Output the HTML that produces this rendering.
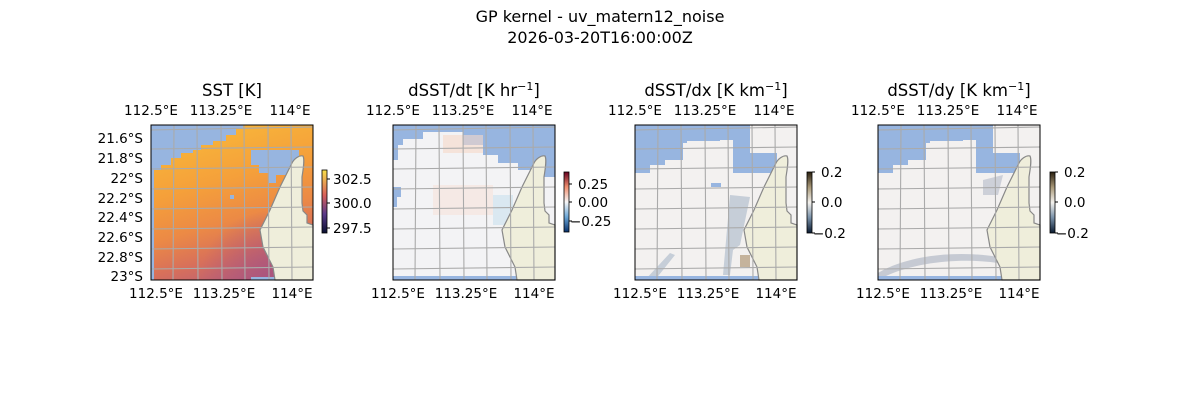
<!DOCTYPE html>
<html><head><meta charset="utf-8"><style>
html,body{margin:0;padding:0;background:#fff}
svg{display:block;font-family:"DejaVu Sans","Liberation Sans",sans-serif}
</style></head><body>
<svg width="1200" height="400" viewBox="0 0 1200 400" xmlns="http://www.w3.org/2000/svg">
<defs>
<linearGradient id="sst" x1="0.35" y1="0" x2="0.65" y2="1">
<stop offset="0" stop-color="#f8b73a"/><stop offset="0.35" stop-color="#f5a03a"/><stop offset="0.6" stop-color="#ec8a45"/><stop offset="0.8" stop-color="#d8705a"/><stop offset="1" stop-color="#b85e78"/>
</linearGradient>
<radialGradient id="purp" cx="0.75" cy="1" r="0.45"><stop offset="0" stop-color="#a8547f" stop-opacity="0.9"/><stop offset="1" stop-color="#a8547f" stop-opacity="0"/></radialGradient>
<linearGradient id="cb1" x1="0" y1="1" x2="0" y2="0"><stop offset="0" stop-color="#0a1030"/><stop offset="0.3" stop-color="#5a3a8a"/><stop offset="0.6" stop-color="#d8605a"/><stop offset="1" stop-color="#f8e04a"/></linearGradient>
<linearGradient id="cb2" x1="0" y1="1" x2="0" y2="0"><stop offset="0" stop-color="#08306b"/><stop offset="0.25" stop-color="#6aa6d6"/><stop offset="0.5" stop-color="#f7f7f7"/><stop offset="0.75" stop-color="#f09070"/><stop offset="1" stop-color="#67001f"/></linearGradient>
<linearGradient id="cb3" x1="0" y1="1" x2="0" y2="0"><stop offset="0" stop-color="#0a1a30"/><stop offset="0.25" stop-color="#7890a8"/><stop offset="0.5" stop-color="#f4f2ee"/><stop offset="0.75" stop-color="#a89878"/><stop offset="1" stop-color="#2a2010"/></linearGradient>
<path id="land" d="M152,31 C148,30 143,34 141,38 L129,62 L119,85 L109,105 L112,122 L122,142 L124,155 L162,155 L162,100 L156,98 L156,90 L152,86 L151,78 L151,52 C152,45 154,35 152,31 Z"/>
<g id="grid" stroke="#aaaaaa" stroke-width="1.1" fill="none">
<path d="M23,0 L22,155 M46,0 L47,155 M70,0 L71,155 M93,0 L94,155 M117,0 L118,155 M140,0 L141,155"/>
<path d="M0,5 L162,2 M0,24 L162,22 M0,44 L162,42 M0,64 L162,62 M0,84 L162,82 M0,104 L162,102 M0,124 L162,122 M0,144 L162,142"/>
</g>
<g id="ticks" font-size="13.5" fill="#000">
<text x="0" y="-10" text-anchor="middle">112.5°E</text><text x="70" y="-10" text-anchor="middle">113.25°E</text><text x="139" y="-10" text-anchor="middle">114°E</text>
<text x="5" y="173" text-anchor="middle">112.5°E</text><text x="73" y="173" text-anchor="middle">113.25°E</text><text x="141" y="173" text-anchor="middle">114°E</text>
</g>
<path id="ocean34" d="M0,0 H162 V0 H115 V28 H142 V48 H98 V15 H85 V16 H52 V18 H48 V35 H30 V40 H15 V48 H0 Z"/>
</defs>

<text x="600" y="22" font-size="16" text-anchor="middle">GP kernel - uv_matern12_noise</text>
<text x="600" y="43" font-size="16" text-anchor="middle">2026-03-20T16:00:00Z</text>

<!-- Panel 1 -->
<g transform="translate(151,125)">
<rect width="162" height="155" fill="url(#sst)"/>
<rect width="162" height="155" fill="url(#purp)"/>
<path d="M0,0 H92 V4 H85 V10 H75 V16 H62 V20 H50 V25 H42 V28 H30 V33 H20 V40 H10 V45 H0 Z" fill="#97b5e0"/>
<path d="M100,25 H148 V38 H140 V50 H125 V58 H118 V48 H108 V40 H100 Z" fill="#97b5e0"/>
<path d="M0,45 H3 V155 H0 Z" fill="#97b5e0"/>
<rect x="79" y="70" width="4" height="4" fill="#97b5e0"/>
<path d="M100,152 H124 V155 H100 Z" fill="#97b5e0"/>
<use href="#land" fill="#efeedb" stroke="#888" stroke-width="1.2"/>
<use href="#grid"/>
<rect width="162" height="155" fill="none" stroke="#000" stroke-width="1"/>
<use href="#ticks"/>
<g font-size="13.5" text-anchor="end"><text x="-8" y="18">21.6°S</text><text x="-8" y="38">21.8°S</text><text x="-8" y="58">22°S</text><text x="-8" y="78">22.2°S</text><text x="-8" y="97">22.4°S</text><text x="-8" y="117">22.6°S</text><text x="-8" y="137">22.8°S</text><text x="-8" y="156">23°S</text></g>
<text x="81" y="-29" font-size="16.5" text-anchor="middle">SST [K]</text>
</g>
<rect x="322" y="170" width="5" height="63" fill="url(#cb1)" stroke="#000" stroke-width="0.8"/>
<g stroke="#000"><path d="M327,179h3M327,203h3M327,228h3"/></g>
<g font-size="13.5"><text x="333" y="184">302.5</text><text x="333" y="208">300.0</text><text x="333" y="233">297.5</text></g>

<!-- Panel 2 -->
<g transform="translate(393,125)">
<rect width="162" height="155" fill="#f3f3f5"/>
<path d="M0,0 H162 V7 H145 V0 H0 Z" fill="#97b5e0"/>
<path d="M0,0 H10 V7 H30 V14 H10 V20 H5 V35 H0 Z" fill="#97b5e0"/>
<path d="M10,0 H145 V7 H10 Z" fill="#97b5e0"/>
<path d="M70,7 H162 V52 H140 V45 H125 V38 H105 V30 H90 V20 H70 Z" fill="#97b5e0"/>
<path d="M0,62 H8 V72 H4 V82 H0 Z" fill="#97b5e0"/>
<rect x="50" y="10" width="40" height="18" fill="#f6d8c8" opacity="0.6"/>
<rect x="40" y="60" width="60" height="30" fill="#f8e0d6" opacity="0.5"/>
<rect x="100" y="70" width="20" height="30" fill="#cfe2f0" opacity="0.7"/>
<rect x="0" y="151" width="124" height="4" fill="#97b5e0"/>
<use href="#land" fill="#efeedb" stroke="#888" stroke-width="1.2"/>
<use href="#grid"/>
<rect width="162" height="155" fill="none" stroke="#000"/>
<use href="#ticks"/>
<text x="81" y="-29" font-size="16.5" text-anchor="middle">dSST/dt [K hr<tspan dy="-6" font-size="11">−1</tspan><tspan dy="6">]</tspan></text>
</g>
<rect x="564" y="172" width="5" height="60" fill="url(#cb2)" stroke="#000" stroke-width="0.8"/>
<g stroke="#000"><path d="M569,184h3M569,202h3M569,221h3"/></g>
<g font-size="13.5"><text x="578" y="189">0.25</text><text x="578" y="207">0.00</text><text x="570" y="226">−0.25</text></g>

<!-- Panel 3 -->
<g transform="translate(635,125)">
<rect width="162" height="155" fill="#f3f1f0"/>
<use href="#ocean34" fill="#97b5e0"/>
<rect x="76" y="58" width="10" height="4" fill="#97b5e0"/>
<path d="M95,70 L115,72 L105,120 L98,125 L95,150 L88,150 Z" fill="#a8b8c8" opacity="0.6"/>
<path d="M10,155 L35,128 L40,130 L20,155 Z" fill="#a8b8c8" opacity="0.6"/>
<rect x="105" y="130" width="10" height="12" fill="#b09878" opacity="0.7"/>
<rect x="0" y="151" width="124" height="4" fill="#97b5e0"/>
<use href="#land" fill="#efeedb" stroke="#888" stroke-width="1.2"/>
<use href="#grid"/>
<rect width="162" height="155" fill="none" stroke="#000"/>
<use href="#ticks"/>
<text x="81" y="-29" font-size="16.5" text-anchor="middle">dSST/dx [K km<tspan dy="-6" font-size="11">−1</tspan><tspan dy="6">]</tspan></text>
</g>
<rect x="807" y="172" width="5" height="61" fill="url(#cb3)" stroke="#000" stroke-width="0.8"/>
<g stroke="#000"><path d="M812,172h3M812,202h3M812,233h3"/></g>
<g font-size="13.5"><text x="821" y="177">0.2</text><text x="821" y="207">0.0</text><text x="813" y="238">−0.2</text></g>

<!-- Panel 4 -->
<g transform="translate(878,125)">
<rect width="162" height="155" fill="#f3f1f0"/>
<use href="#ocean34" fill="#97b5e0"/>
<path d="M0,148 C30,130 80,125 120,132 L120,138 C80,132 30,138 0,155 Z" fill="#a8b0c0" opacity="0.6"/>
<path d="M105,55 L125,50 L120,70 L105,70 Z" fill="#a8b0c0" opacity="0.5"/>
<rect x="0" y="151" width="124" height="4" fill="#97b5e0"/>
<use href="#land" fill="#efeedb" stroke="#888" stroke-width="1.2"/>
<use href="#grid"/>
<rect width="162" height="155" fill="none" stroke="#000"/>
<use href="#ticks"/>
<text x="81" y="-29" font-size="16.5" text-anchor="middle">dSST/dy [K km<tspan dy="-6" font-size="11">−1</tspan><tspan dy="6">]</tspan></text>
</g>
<rect x="1050" y="172" width="5" height="61" fill="url(#cb3)" stroke="#000" stroke-width="0.8"/>
<g stroke="#000"><path d="M1055,172h3M1055,202h3M1055,233h3"/></g>
<g font-size="13.5"><text x="1064" y="177">0.2</text><text x="1064" y="207">0.0</text><text x="1056" y="238">−0.2</text></g>
</svg>
</body></html>
